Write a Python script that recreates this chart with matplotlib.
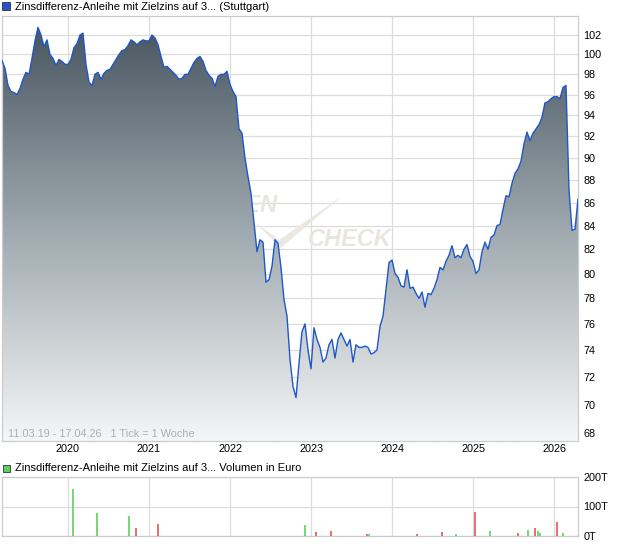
import numpy as np
import pandas as pd
import matplotlib
matplotlib.use("Agg")
import matplotlib.pyplot as plt
from matplotlib.colors import LinearSegmentedColormap
from matplotlib.patches import Polygon, Rectangle
from matplotlib.ticker import NullLocator

plt.rcParams['font.family'] = ['Liberation Sans', 'DejaVu Sans']

kurs = [
    99.4, 98.6, 96.9, 96.3, 96.2, 96.0, 96.6, 97.5, 98.2, 98.0,
    99.6, 101.4, 102.8, 102.0, 100.8, 101.5, 100.0, 99.6, 98.9, 99.5,
    99.3, 99.0, 99.0, 99.5, 100.7, 101.1, 102.0, 102.2, 99.0, 97.2,
    96.9, 98.0, 98.2, 97.5, 98.1, 98.4, 98.5, 99.0, 99.5, 100.0,
    100.4, 100.5, 100.9, 101.5, 101.3, 101.0, 101.3, 101.5, 101.4, 101.4,
    102.0, 101.7, 101.0, 99.8, 98.7, 98.8, 98.5, 98.2, 97.9, 97.5,
    97.6, 98.0, 98.0, 98.6, 99.2, 99.6, 99.8, 99.3, 98.4, 97.9,
    97.6, 96.8, 97.8, 98.0, 98.0, 98.3, 97.0, 96.3, 95.8, 92.7,
    92.3, 90.0, 88.3, 86.8, 84.3, 81.8, 82.8, 82.6, 79.3, 79.5,
    80.6, 82.8, 82.5, 80.5, 77.9, 76.6, 73.3, 71.3, 70.5, 73.0,
    75.4, 76.0, 74.0, 72.6, 75.7, 74.8, 74.2, 73.1, 73.4, 74.4,
    74.8, 73.4, 74.8, 75.3, 74.8, 74.3, 74.8, 73.1, 74.4, 74.2,
    74.2, 74.3, 74.2, 73.7, 73.8, 74.0, 75.8, 76.6, 78.7, 80.9,
    81.1, 80.0, 79.7, 79.0, 78.9, 80.3, 78.8, 78.9, 78.4, 78.0,
    78.5, 77.3, 78.4, 78.3, 78.8, 79.5, 80.5, 80.3, 81.0, 81.5,
    82.3, 81.3, 81.5, 81.3, 82.0, 82.4, 81.4, 81.0, 80.0, 80.3,
    81.8, 82.6, 82.0, 83.0, 83.2, 84.0, 84.1, 85.4, 86.6, 86.5,
    87.7, 88.6, 89.0, 89.7, 91.3, 92.4, 91.6, 92.3, 92.7, 93.1,
    93.8, 95.2, 95.3, 95.6, 95.8, 95.8, 95.6, 96.7, 96.9, 87.1,
    83.6, 83.7, 86.3,
]
datum = pd.date_range('2019-03-11', '2026-04-17', periods=len(kurs))

# Umsatz in Tausend Euro
vol_datum = pd.to_datetime([
    '2020-01-23', '2020-05-11', '2020-10-02', '2020-11-02', '2021-02-10',
    '2022-12-05', '2023-01-23', '2023-04-01', '2023-09-10', '2023-09-17',
    '2024-04-22', '2024-08-13', '2024-10-15', '2025-01-10', '2025-03-18',
    '2025-07-23', '2025-09-06', '2025-10-07', '2025-10-18', '2025-10-30',
    '2026-01-13', '2026-02-09',
])
vol_wert = [158, 77, 68, 28, 41, 37, 14, 17, 7, 7,
            7, 14, 7, 81, 17, 11, 20, 27, 17, 11, 47, 11]
vol_steigend = [1, 1, 1, 0, 0, 1, 0, 0, 0, 1,
                0, 0, 1, 0, 1, 0, 1, 0, 1, 1, 0, 1]

jahre = [2020, 2021, 2022, 2023, 2024, 2025, 2026]
y_ticks = list(range(68, 104, 2))

W, H = 620, 546
fig = plt.figure(figsize=(W / 100, H / 100), dpi=100)
ax = fig.add_axes([2 / W, 1 - 441 / H, 576 / W, 425 / H])
axv = fig.add_axes([2 / W, 1 - 536 / H, 576 / W, 59 / H])

grid_col = '#dddddd'
jahr_ts = [pd.Timestamp(f'{j}-01-01') for j in jahre]

# --- Kurschart ---
ax.set_yscale('log')

# Wasserzeichen
ax.text(0.479, 0.553, 'FINANZEN', transform=ax.transAxes, ha='right', va='center',
        fontsize=17, fontstyle='italic', fontweight='bold', color='#e9e5df', zorder=1)
ax.text(0.531, 0.475, 'CHECK', transform=ax.transAxes, ha='left', va='center',
        fontsize=17, fontstyle='italic', fontweight='bold', color='#e9e5df', zorder=1)
ax.add_patch(Polygon([(0.439, 0.515), (0.484, 0.454), (0.590, 0.576), (0.481, 0.473)],
                     closed=True, transform=ax.transAxes, facecolor='#ebe7e1',
                     edgecolor='none', zorder=1))

cmap = LinearSegmentedColormap.from_list('kurs', ['#44525d', '#9ea8ae', '#f5f6f7'])
grad = np.linspace(0, 1, 256).reshape(-1, 1)
im = ax.imshow(grad, extent=[0, 1, 0, 1], transform=ax.transAxes, origin='upper',
               cmap=cmap, aspect='auto', zorder=2)
flaeche = ax.fill_between(datum, kurs, 60, facecolor='none', edgecolor='none')
im.set_clip_path(flaeche.get_paths()[0], transform=ax.transData)
ax.plot(datum, kurs, color='#1f57c8', lw=1.0, zorder=3)

ax.set_xlim(datum[0], datum[-1])
ax.set_ylim(67.45, 104.0)
ax.set_yticks(y_ticks)
ax.set_yticklabels([str(v) for v in y_ticks])
ax.yaxis.set_minor_locator(NullLocator())
ax.yaxis.tick_right()
ax.set_xticks(jahr_ts)
ax.set_xticklabels([str(j) for j in jahre])
ax.tick_params(axis='both', length=0, labelsize=7.8, colors='black')
ax.tick_params(axis='y', pad=4)
ax.tick_params(axis='x', pad=2)
ax.grid(True, color=grid_col, lw=0.9, zorder=0)
ax.set_axisbelow(True)
for s in ax.spines.values():
    s.set_color('#cccccc')
    s.set_linewidth(0.9)

ax.text(0.01, 0.004, '11.03.19 - 17.04.26   1 Tick = 1 Woche', transform=ax.transAxes,
        fontsize=7.8, color='#a8b0b8', va='bottom', ha='left', zorder=4)

# --- Umsatz ---
farben = ['#5fd05f' if s else '#e05555' for s in vol_steigend]
axv.vlines(vol_datum, 0, vol_wert, colors=farben, lw=1.2, zorder=3)
axv.set_xlim(datum[0], datum[-1])
axv.set_ylim(0, 200)
axv.set_yticks([0, 100, 200])
axv.set_yticklabels(['0T', '100T', '200T'])
axv.yaxis.tick_right()
axv.set_xticks(jahr_ts)
axv.set_xticklabels([])
axv.tick_params(axis='both', length=0, labelsize=7.8)
axv.tick_params(axis='y', pad=4)
axv.grid(True, color=grid_col, lw=0.9, zorder=0)
axv.set_axisbelow(True)
for s in axv.spines.values():
    s.set_color('#cccccc')
    s.set_linewidth(0.9)

# Überschriften
fig.patches.append(Rectangle((2 / W, 1 - 10 / H), 8 / W, 8 / H, transform=fig.transFigure,
                             facecolor='#1f57c8', edgecolor='#333333', lw=0.6))
fig.text(15 / W, 1 - 6.5 / H, 'Zinsdifferenz-Anleihe mit Zielzins auf 3... (Stuttgart)',
         fontsize=8, va='center', ha='left')
fig.patches.append(Rectangle((3 / W, 1 - 472 / H), 7 / W, 7 / H, transform=fig.transFigure,
                             facecolor='#5fd05f', edgecolor='#333333', lw=0.6))
fig.text(15 / W, 1 - 468 / H, 'Zinsdifferenz-Anleihe mit Zielzins auf 3... Volumen in Euro',
         fontsize=8, va='center', ha='left')

fig.savefig('out.png', dpi=100)
